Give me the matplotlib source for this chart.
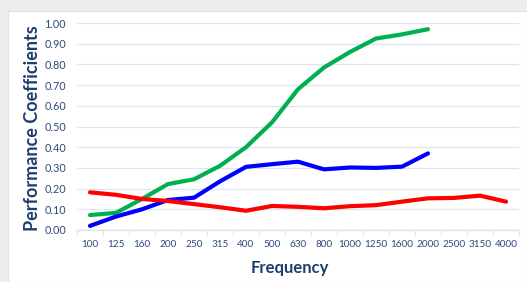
import matplotlib
matplotlib.use("Agg")
import matplotlib.pyplot as plt
from matplotlib.patches import Rectangle
import numpy as np

frequencies = ["100", "125", "160", "200", "250", "315", "400", "500", "630", "800",
               "1000", "1250", "1600", "2000", "2500", "3150", "4000"]
green_vals = [0.072, 0.083, 0.15, 0.222, 0.245, 0.31, 0.40, 0.52, 0.68, 0.785,
              0.86, 0.925, 0.945, 0.97]
blue_vals = [0.02, 0.065, 0.10, 0.145, 0.156, 0.235, 0.305, 0.318, 0.33, 0.293,
             0.302, 0.30, 0.306, 0.37]
red_vals = [0.182, 0.17, 0.15, 0.14, 0.125, 0.11, 0.093, 0.116, 0.112, 0.105,
            0.115, 0.12, 0.137, 0.153, 0.155, 0.166, 0.137]
yticks = [0.0, 0.1, 0.2, 0.3, 0.4, 0.5, 0.6, 0.7, 0.8, 0.9, 1.0]

W, H = 527, 282
fig = plt.figure(figsize=(W/100, H/100), dpi=100)
fig.patch.set_facecolor("#eeeeee")
fig.patches.append(Rectangle((8/W, 0), 1 - 8/W, (H - 11)/H, transform=fig.transFigure,
                             facecolor="white", edgecolor="#d9e1ec", lw=0.8, zorder=-5))

ax = fig.add_axes([77/W, 1 - 230/H, (519 - 77)/W, (230 - 23)/H])
ax.set_zorder(2)
ax.set_facecolor("none")
x = np.arange(len(frequencies))
ax.plot(x[:len(green_vals)], green_vals, color="#00b050", lw=3, solid_capstyle="round", zorder=3)
ax.plot(x[:len(blue_vals)], blue_vals, color="#0000ff", lw=3, solid_capstyle="round", zorder=3)
ax.plot(x[:len(red_vals)], red_vals, color="#ff0000", lw=3, solid_capstyle="round", zorder=3)

ax.set_xlim(-0.5, len(frequencies) - 0.5)
ax.set_ylim(0, 1.0)
ax.set_yticks(yticks)
ax.set_yticklabels([f"{v:.2f}" for v in yticks])
ax.set_xticks(x)
ax.set_xticklabels(frequencies)
ax.set_xticks(np.arange(-0.5, len(frequencies)), minor=True)

tc = "#2f4a7a"
font = "Lato"
for lab in ax.get_yticklabels():
    lab.set_fontfamily(font)
    lab.set_fontsize(7.8)
    lab.set_color(tc)
for lab in ax.get_xticklabels():
    lab.set_fontfamily(font)
    lab.set_fontsize(7.2)
    lab.set_color(tc)
ax.tick_params(axis="y", length=0, pad=8)
ax.tick_params(axis="x", which="major", length=0, pad=7)
ax.tick_params(axis="x", which="minor", length=3.5, color="#d9e1ec", width=0.8)

ax.grid(axis="y", color="#dce6f2", lw=0.9, zorder=0)
ax.set_axisbelow(True)
for s in ["top", "right", "left"]:
    ax.spines[s].set_visible(False)
ax.spines["bottom"].set_color("#d9e1ec")
ax.spines["bottom"].set_linewidth(0.9)

fig.text(33/W, 1 - 128/H, "Performance Coefficients", rotation=90, ha="center", va="center",
         fontsize=13, fontweight="bold", color="#1f3e6e", fontfamily=font)
fig.text(290/W, 1 - 268/H, "Frequency", ha="center", va="center",
         fontsize=12, fontweight="bold", color="#1f3e6e", fontfamily=font)

fig.savefig("out.png", dpi=100, facecolor=fig.get_facecolor())
